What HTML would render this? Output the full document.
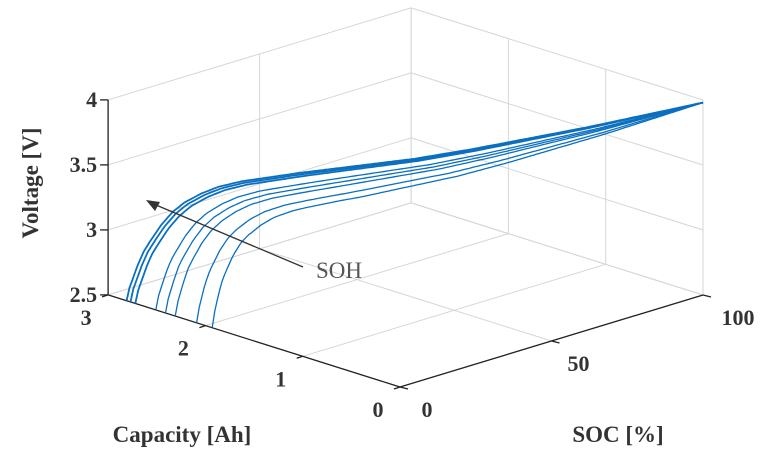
<!DOCTYPE html>
<html><head><meta charset="utf-8">
<style>
html,body{margin:0;padding:0;background:#fff;}
svg{display:block;}
.tk{font-family:"Liberation Serif",serif;font-weight:bold;font-size:22px;fill:#333;}
.ttl{font-family:"Liberation Serif",serif;font-weight:bold;font-size:23px;fill:#333;}
</style></head>
<body>
<svg id="chart" width="781" height="467" viewBox="0 0 781 467" xmlns="http://www.w3.org/2000/svg">
<g id="grid"></g>
<g id="axes"></g>
<g id="series"></g>
<text class="ttl" transform="translate(38,183) rotate(-90)" text-anchor="middle">Voltage [V]</text>
<text class="ttl" x="182" y="442" text-anchor="middle">Capacity [Ah]</text>
<text class="ttl" x="618" y="442" text-anchor="middle">SOC [%]</text>
<g>
<line x1="303" y1="267" x2="156" y2="205" stroke="#333" stroke-width="1.3"/>
<polygon points="146,200 160,202 155,211" fill="#333"/>
<text x="316" y="278" font-family="Liberation Serif,serif" font-size="23" fill="#555">SOH</text>
</g>
</svg>
<script>
const capTicks=[0,1,2,3];
const socTicks=[0,50,100];
const vTicks=[2.5,3,3.5,4];
const vTickLabels=["2.5","3","3.5","4"];
const socPoints=[0,0.5,1,2,3,4,6,8,10,13,16,20,25,30,40,50,60,70,80,90,100];
const baseVoltage=[2.5,2.6,2.66,2.78,2.88,2.95,3.08,3.18,3.25,3.32,3.37,3.41,3.44,3.47,3.52,3.57,3.64,3.72,3.8,3.89,3.98];
const maxCapacity=[2.81,2.77,2.72,2.51,2.41,2.31,2.09,1.93];
const voltageDrop=[0,0.005,0.01,0.02,0.03,0.04,0.05,0.06];

const NS="http://www.w3.org/2000/svg";
function P(c,s,v){return [400-97.3*c+3.03*s, 387-30.7*c-0.92*s-130*(v-2.5)];}
function interpV(s){s=Math.min(100,Math.max(0,s));for(let i=1;i<socPoints.length;i++){if(s<=socPoints[i]){const t=(s-socPoints[i-1])/(socPoints[i]-socPoints[i-1]);return baseVoltage[i-1]+t*(baseVoltage[i]-baseVoltage[i-1]);}}return baseVoltage[baseVoltage.length-1];}
function line(g,a,b,stroke,w){const l=document.createElementNS(NS,'line');
l.setAttribute('x1',a[0]);l.setAttribute('y1',a[1]);l.setAttribute('x2',b[0]);l.setAttribute('y2',b[1]);
l.setAttribute('stroke',stroke);l.setAttribute('stroke-width',w);g.appendChild(l);return l;}
function text(g,x,y,t,anchor){const e=document.createElementNS(NS,'text');e.setAttribute('x',x);e.setAttribute('y',y);
e.setAttribute('class','tk');e.setAttribute('text-anchor',anchor);e.textContent=t;g.appendChild(e);return e;}
const grid=document.getElementById('grid'),axes=document.getElementById('axes'),ser=document.getElementById('series');
const gc='#d6d6d6',cMax=3,sMax=100,vMin=2.5,vMax=4;
vTicks.forEach(v=>{const l=line(grid,P(cMax,0,v),P(cMax,sMax,v),gc,1);});
socTicks.forEach(s=>{const l=line(grid,P(cMax,s,vMin),P(cMax,s,vMax),gc,1);});
vTicks.forEach(v=>{const l=line(grid,P(0,sMax,v),P(cMax,sMax,v),gc,1);});
capTicks.forEach(c=>{const l=line(grid,P(c,sMax,vMin),P(c,sMax,vMax),gc,1);});
capTicks.forEach(c=>{const l=line(grid,P(c,0,vMin),P(c,sMax,vMin),gc,1);});
socTicks.forEach(s=>{const l=line(grid,P(0,s,vMin),P(cMax,s,vMin),gc,1);});
let a;
a=line(axes,P(cMax,0,vMin),P(cMax,0,vMax),'#222',1.3);
a=line(axes,P(cMax,0,vMin),P(0,0,vMin),'#222',1.3);
a=line(axes,P(0,0,vMin),P(0,sMax,vMin),'#222',1.3);
vTicks.forEach((v,i)=>{const p=P(cMax,0,v);line(axes,[p[0]-8,p[1]],p,'#222',1.3);
const t=text(axes,p[0]-11,p[1]+7,vTickLabels[i],'end');});
capTicks.forEach(c=>{const p=P(c,0,vMin);line(axes,p,[p[0]-6,p[1]+2],'#222',1.3);
const t=text(axes,p[0]-22,p[1]+30,String(c),'middle');});
socTicks.forEach(s=>{const p=P(0,s,vMin);line(axes,p,[p[0]+8,p[1]+2],'#222',1.3);
const t=text(axes,p[0]+27+(s===100?8:0),p[1]+30,String(s),'middle');});
const cRef=maxCapacity[0];
maxCapacity.forEach((cm,k)=>{
  const kf=cRef/cm;
  const pts=[];
  for(let s=0;s<=100;s+=0.5){
    const eff=s+(kf-1)*s*Math.max(0,1-s/30);
    const drop=voltageDrop[k]*Math.min(1,s/8)*(1-s/100);
    const v=interpV(eff)-drop;
    pts.push(P(cm*(1-s/100),s,v).map(n=>n.toFixed(1)).join(','));
  }
  const pl=document.createElementNS(NS,'polyline');
  pl.setAttribute('points',pts.join(' '));pl.setAttribute('fill','none');
  pl.setAttribute('stroke','#0b6fc0');pl.setAttribute('stroke-width',k<3?'1.8':'1.3');
  pl.setAttribute('stroke-linejoin','round');
  
  
  ser.appendChild(pl);
});
</script>
</body></html>
